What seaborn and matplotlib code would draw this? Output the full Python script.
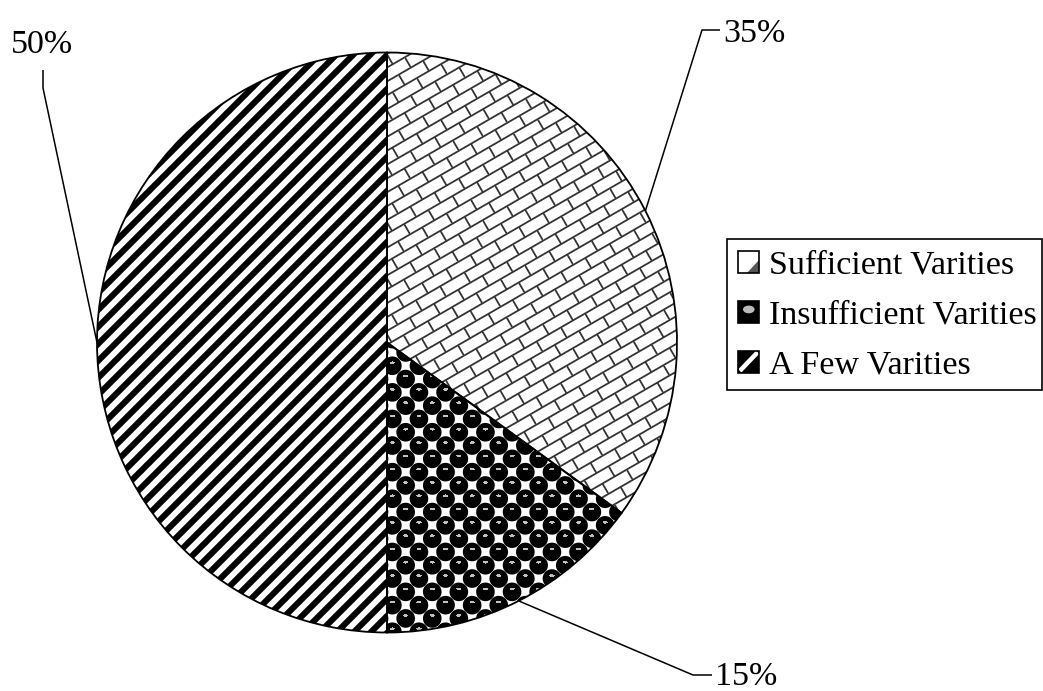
import numpy as np
import matplotlib
matplotlib.use("Agg")
import matplotlib.pyplot as plt
import seaborn as sns
from matplotlib.patches import Rectangle, Polygon, Ellipse
from matplotlib.legend_handler import HandlerBase

# Survey result: share of respondents per answer
categories = ["Sufficient Varities", "Insufficient Varities", "A Few Varities"]
shares = [35, 15, 50]
pct_labels = ["35%", "15%", "50%"]

sns.set_theme(style="white")
plt.rcParams["font.family"] = ["Liberation Serif", "DejaVu Serif"]

W, H = 1043, 691
fig = plt.figure(figsize=(W / 100, H / 100), dpi=100)
ax = fig.add_axes([0, 0, 1, 1])
cx, cy, R = 387, 348.5, 290

wedges, _ = ax.pie(
    shares, startangle=90, counterclock=False, center=(cx, cy), radius=R,
    wedgeprops=dict(facecolor="none", edgecolor="black", linewidth=1.3),
    frame=False,
)
for w in wedges:
    w.set_zorder(3)

# ---- monochrome fill textures (pixel grid, y downwards) ----
yy, xx = np.mgrid[0:H, 0:W] + 0.5


def brick_texture(h=12.0, L=28.0, ang=30.0):
    a = np.deg2rad(ang)
    s = xx * np.cos(a) - yy * np.sin(a)
    t = xx * np.sin(a) + yy * np.cos(a)
    row = np.floor(t / h)
    tf = np.mod(t, h)
    dt = np.minimum(tf, h - tf)
    sf = np.mod(s + (row % 2) * L / 2, L)
    ds = np.minimum(sf, L - sf)
    d = np.minimum(dt, ds)
    return 0.2 + 0.8 * np.clip((d - 0.4) / 1.0, 0, 1)


def dot_texture(c=13.3, r=9.3):
    gx, gy = xx / c, yy / c
    i, j = np.floor(gx), np.floor(gy)
    best = np.full(xx.shape, 1e9)
    hx = np.zeros_like(xx)
    hy = np.zeros_like(yy)
    for di, dj in [(0, 0), (1, 0), (-1, 0), (0, 1), (0, -1)]:
        ci, cj = i + di, j + dj
        ok = ((ci + cj) % 2) == 0
        px, py = (ci + 0.5) * c, (cj + 0.5) * c
        dd = np.hypot(xx - px, yy - py)
        dd = np.where(ok, dd, 1e9)
        m = dd < best
        best = np.where(m, dd, best)
        hx = np.where(m, xx - px, hx)
        hy = np.where(m, yy - py, hy)
    val = np.clip(best - r + 0.5, 0, 1)
    hl = ((hx / 2.6) ** 2 + ((hy + 3.0) / 1.3) ** 2) < 1
    val = np.where(hl & (best < r), 0.75, val)
    return val


def stripe_texture(period=17.0, half=3.1):
    d = np.mod(xx + yy, period)
    d = np.minimum(d, period - d) / np.sqrt(2)
    return np.clip(d - half + 0.5, 0, 1)


textures = [brick_texture(), dot_texture(), stripe_texture()]
for w, tex in zip(wedges, textures):
    im = ax.imshow(tex, cmap="gray", vmin=0, vmax=1, extent=(0, W, 0, H),
                   origin="upper", interpolation="nearest", zorder=1)
    im.set_clip_path(w)

# ---- percentage labels with leader lines ----
label_layout = [
    # elbow, segment end, text anchor, alignment
    ((702, 661), (720, 661), (723, 649), "left"),
    ((693, 16), (712, 16), (715, 6), "left"),
    ((43, 603), (43, 621), (42, 638), "center"),
]
for w, txt, (elbow, end, tpos, ha) in zip(wedges, pct_labels, label_layout):
    mid = np.deg2rad((w.theta1 + w.theta2) / 2)
    ex, ey = cx + R * np.cos(mid), cy + R * np.sin(mid)
    ax.plot([ex, elbow[0], end[0]], [ey, elbow[1], end[1]],
            color="black", lw=1.1, zorder=4, solid_capstyle="butt")
    ax.text(tpos[0], tpos[1], txt, ha=ha, va="baseline", fontsize=24.5,
            color="black", zorder=5)


# ---- legend with small pattern swatches ----
class SwatchHandler(HandlerBase):
    def __init__(self, kind):
        super().__init__()
        self.kind = kind

    def create_artists(self, legend, orig_handle, xdescent, ydescent,
                       width, height, fontsize, trans):
        x0, y0, w, h = -xdescent, -ydescent, width, height
        arts = []
        if self.kind == "brick":
            arts.append(Rectangle((x0, y0), w, h, facecolor="white",
                                  edgecolor="none", transform=trans))
            arts.append(Polygon([(x0 + 0.4 * w, y0), (x0 + w, y0),
                                 (x0 + w, y0 + 0.6 * h)], closed=True,
                                facecolor="#555555", edgecolor="none",
                                transform=trans))
        elif self.kind == "dots":
            arts.append(Rectangle((x0, y0), w, h, facecolor="black",
                                  edgecolor="none", transform=trans))
            arts.append(Ellipse((x0 + 0.5 * w, y0 + 0.6 * h), 0.55 * w,
                                0.35 * h, facecolor="#bbbbbb",
                                edgecolor="none", transform=trans))
        else:
            arts.append(Rectangle((x0, y0), w, h, facecolor="black",
                                  edgecolor="none", transform=trans))
            arts.append(Polygon([(x0, y0 + 0.15 * h), (x0 + 0.15 * w, y0),
                                 (x0 + w, y0 + 0.85 * h),
                                 (x0 + 0.85 * w, y0 + h)], closed=True,
                                facecolor="white", edgecolor="none",
                                transform=trans))
        arts.append(Rectangle((x0, y0), w, h, facecolor="none",
                              edgecolor="black", lw=1.2, transform=trans))
        return arts


handles = [Rectangle((0, 0), 1, 1) for _ in categories]
kinds = ["brick", "dots", "stripes"]
leg = ax.legend(
    handles, categories,
    handler_map={hd: SwatchHandler(k) for hd, k in zip(handles, kinds)},
    loc="upper left", bbox_to_anchor=(727, 452), bbox_transform=ax.transData,
    borderaxespad=0, fontsize=24.5, frameon=False,
    handlelength=0.62, handleheight=0.62,
    handletextpad=0.28, borderpad=0.33, labelspacing=0.57,
)
for t in leg.get_texts():
    t.set_color("black")

# legend border, kept inside the figure's right edge
ax.add_patch(Rectangle((727, 301), 315, 151, facecolor="none",
                       edgecolor="black", lw=1.2, zorder=6))

ax.set_xlim(0, W)
ax.set_ylim(0, H)
ax.set_aspect("equal")
ax.axis("off")

fig.savefig("out.png", dpi=100, facecolor="white")
